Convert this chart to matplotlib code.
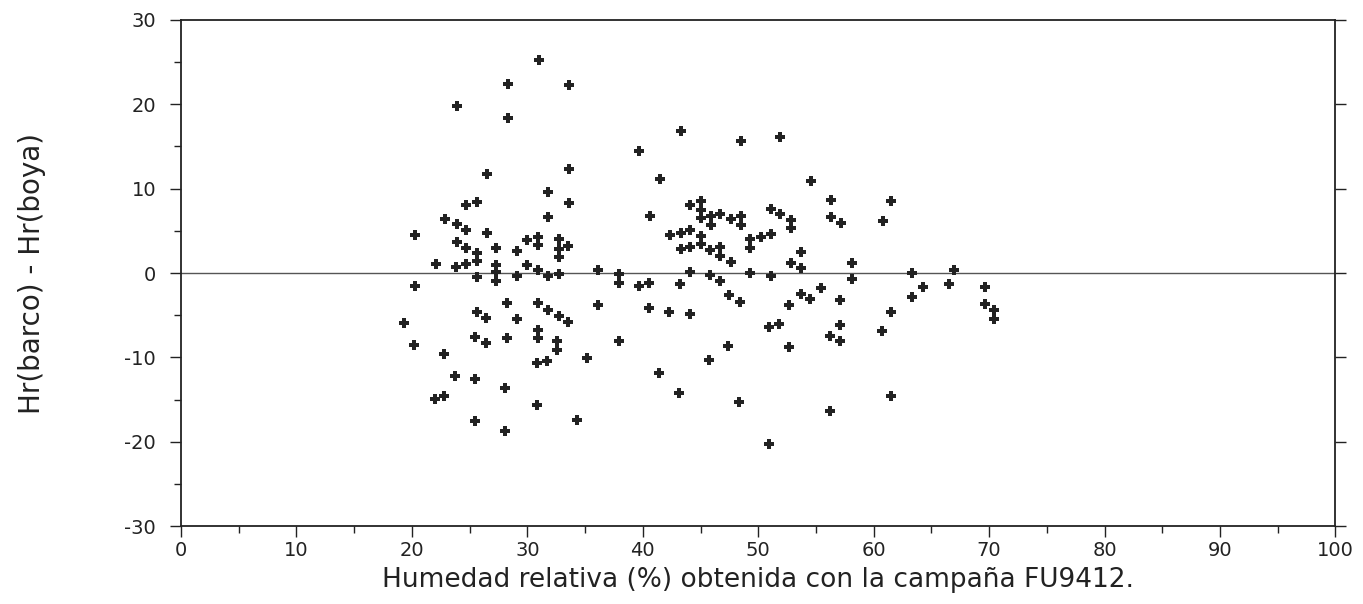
import numpy as np
import matplotlib
matplotlib.use("Agg")
import matplotlib.pyplot as plt
from matplotlib.ticker import MultipleLocator

plt.rcParams["axes.unicode_minus"] = False

# Humedad relativa (%) medida con la campaña FU9412
hr_barco = [
    31.0, 28.3, 33.6, 23.9, 28.3, 26.5, 33.6, 31.8, 33.6, 24.7, 25.6, 31.8,
    22.9, 23.9, 24.7, 26.5, 20.3, 30.9, 30.0, 32.7, 23.9, 30.9, 33.5, 24.7,
    27.3, 32.7, 29.1, 25.6, 32.7, 22.1, 27.3, 30.0, 23.8, 24.7, 25.6, 30.9,
    27.3, 36.1, 37.9, 25.6, 29.1, 31.8, 32.7, 27.3, 37.9, 20.3, 28.2, 30.9,
    31.8, 32.7, 33.5, 36.1, 25.6, 26.4, 29.1, 19.3, 30.9, 25.5, 26.4, 28.2,
    30.9, 32.6, 32.6, 20.2, 37.9, 22.8, 35.2, 30.8, 31.7, 23.7, 25.5, 28.1,
    22.0, 22.8, 30.8, 25.5, 34.3, 28.1,
    39.7, 43.3, 48.5, 51.9, 41.5, 54.6, 40.6, 44.1, 45.0, 45.0, 45.0, 45.9,
    46.7, 45.9, 47.6, 48.5, 48.5, 51.1, 51.9, 52.8, 52.8, 56.3, 56.3, 57.2,
    60.8, 61.5, 42.4, 43.3, 44.1, 45.0, 43.3, 44.1, 45.0, 45.8, 46.7, 46.7,
    47.6, 49.3, 50.2, 51.1, 49.3, 53.7, 52.8, 53.7, 58.1, 44.1, 45.8, 49.3,
    51.1, 58.1, 39.7, 40.5, 43.2, 46.7, 47.5, 48.4, 53.7, 54.5, 55.4, 57.1,
    52.7, 40.5, 42.3, 44.1, 50.9, 51.8, 57.1, 56.2, 57.1, 60.7, 47.4, 52.7,
    45.7, 41.4, 43.1, 48.3, 56.2, 50.9, 61.5, 61.5,
    63.3, 67.0, 64.3, 66.5, 63.3, 69.6, 69.6, 70.4, 70.4,
]

# Diferencia Hr(barco) - Hr(boya)
diferencia = [
    25.3, 22.4, 22.3, 19.8, 18.4, 11.7, 12.3, 9.6, 8.3, 8.1, 8.4, 6.6,
    6.4, 5.8, 5.1, 4.7, 4.5, 4.3, 3.95, 4.0, 3.7, 3.3, 3.2, 3.0,
    3.0, 2.9, 2.6, 2.4, 1.9, 1.1, 1.0, 0.95, 0.7, 1.1, 1.4, 0.4,
    0.1, 0.3, -0.1, -0.5, -0.4, -0.35, -0.1, -1.0, -1.2, -1.5, -3.6, -3.6,
    -4.4, -5.1, -5.8, -3.8, -4.6, -5.3, -5.4, -5.9, -6.8, -7.6, -8.3, -7.7,
    -7.7, -8.1, -9.1, -8.5, -8.1, -9.6, -10.1, -10.7, -10.4, -12.2, -12.6, -13.6,
    -14.9, -14.6, -15.7, -17.6, -17.4, -18.7,
    14.5, 16.8, 15.7, 16.1, 11.2, 10.9, 6.8, 8.1, 8.5, 7.5, 6.5, 6.7,
    7.0, 5.7, 6.4, 6.7, 5.7, 7.6, 7.0, 6.3, 5.3, 8.6, 6.6, 5.9,
    6.2, 8.5, 4.5, 4.8, 5.1, 4.4, 2.8, 3.1, 3.4, 2.7, 3.1, 2.0,
    1.3, 4.0, 4.3, 4.6, 3.0, 2.5, 1.2, 0.55, 1.2, 0.15, -0.25, 0.0,
    -0.3, -0.75, -1.5, -1.2, -1.3, -1.0, -2.6, -3.4, -2.5, -3.1, -1.8, -3.2,
    -3.8, -4.2, -4.6, -4.9, -6.4, -6.0, -6.2, -7.5, -8.1, -6.9, -8.7, -8.8,
    -10.3, -11.9, -14.2, -15.3, -16.4, -20.3, -14.6, -4.6,
    0.05, 0.3, -1.6, -1.3, -2.9, -1.7, -3.7, -4.4, -5.4,
]

fig = plt.figure(figsize=(13.63, 6.04), dpi=100)
ax = fig.add_axes([0.1328, 0.129, 0.847, 0.838])

ax.axhline(0, color="#555555", lw=1.0, zorder=1)
ax.plot(hr_barco, diferencia, linestyle="none", marker="P", markersize=7,
        color="#222222", markeredgewidth=0, zorder=3)

ax.set_xlim(0, 100)
ax.set_ylim(-30, 30)
ax.xaxis.set_major_locator(MultipleLocator(10))
ax.xaxis.set_minor_locator(MultipleLocator(5))
ax.yaxis.set_major_locator(MultipleLocator(10))
ax.yaxis.set_minor_locator(MultipleLocator(5))

for side in ["left", "right", "top", "bottom"]:
    ax.spines[side].set_linewidth(1.3)
    ax.spines[side].set_color("#222222")

ax.tick_params(axis="both", which="both", direction="out", color="#222222",
               labelsize=14, labelcolor="#222222", width=1.0)
ax.tick_params(which="major", length=8)
ax.tick_params(which="minor", length=5)
ax.tick_params(axis="y", right=True, labelright=False)
ax.tick_params(axis="x", top=False)
# marcas del eje derecho hacia dentro
for t in ax.yaxis.get_major_ticks() + ax.yaxis.get_minor_ticks():
    t.tick2line.set_marker(matplotlib.lines.TICKLEFT)

ax.tick_params(axis="x", pad=3)
ax.tick_params(axis="y", pad=10)

ax.set_xlabel("Humedad relativa (%) obtenida con la campaña FU9412.",
              fontsize=19, color="#222222", labelpad=5,
              family=["DejaVu Sans"])
ax.set_ylabel("Hr(barco) - Hr(boya)", fontsize=20, color="#222222",
              labelpad=56, family=["DejaVu Sans"])
for lab in ax.get_xticklabels() + ax.get_yticklabels():
    lab.set_family(["DejaVu Sans"])

fig.savefig("out.png", dpi=100, facecolor="white")
